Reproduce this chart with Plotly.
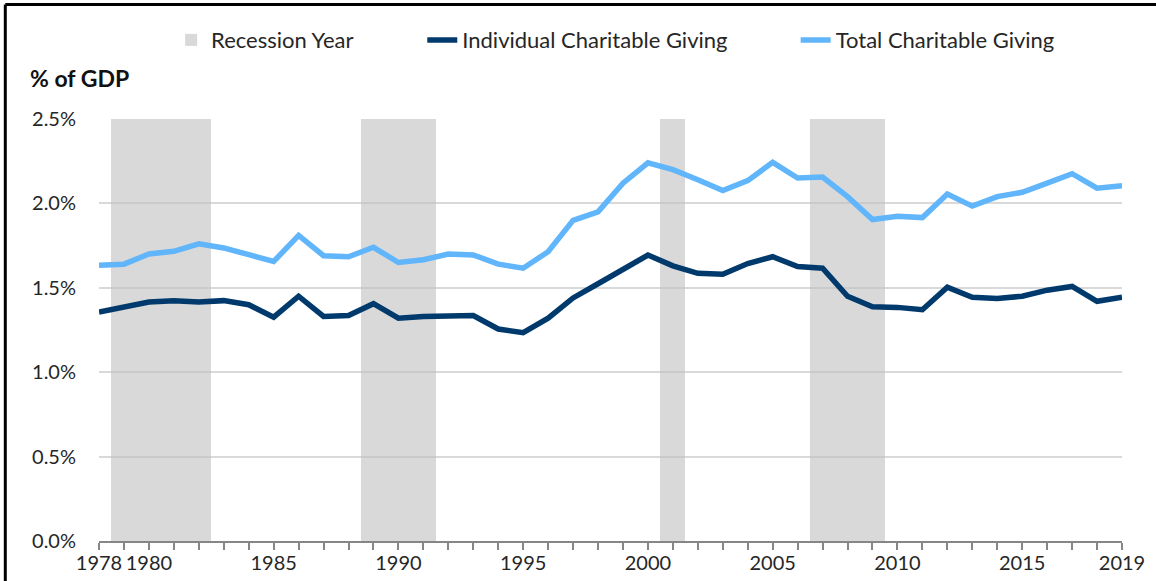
import plotly.graph_objects as go

years = list(range(1978, 2020))
individual = [1.356, 1.386, 1.416, 1.424, 1.416, 1.424, 1.400, 1.326, 1.450, 1.330,
              1.336, 1.406, 1.320, 1.330, 1.336, 1.336, 1.256, 1.234, 1.320, 1.440,
              1.524, 1.610, 1.694, 1.630, 1.586, 1.580, 1.644, 1.684, 1.626, 1.616,
              1.450, 1.388, 1.384, 1.370, 1.504, 1.444, 1.436, 1.450, 1.486, 1.508,
              1.420, 1.444]
total = [1.634, 1.640, 1.700, 1.716, 1.760, 1.736, 1.696, 1.656, 1.810, 1.690,
         1.684, 1.740, 1.650, 1.666, 1.700, 1.695, 1.640, 1.616, 1.714, 1.900,
         1.950, 2.120, 2.240, 2.200, 2.140, 2.076, 2.135, 2.243, 2.150, 2.156,
         2.040, 1.904, 1.924, 1.916, 2.056, 1.984, 2.040, 2.066, 2.120, 2.176,
         2.090, 2.104]
recession_years = [1979, 1980, 1981, 1982, 1989, 1990, 1991, 2001, 2007, 2008, 2009]
y_max = 2.5
label_years = [1978, 1980, 1985, 1990, 1995, 2000, 2005, 2010, 2015, 2019]
tick_text = [str(y) if y in label_years else "" for y in years]

FONT = "Lato"
TXT = "#262626"

fig = go.Figure()
fig.add_trace(go.Bar(
    x=recession_years, y=[y_max] * len(recession_years), width=1,
    marker=dict(color="rgba(191,191,191,0.6)", line=dict(width=0)),
    name="Recession Year", legend="legend", showlegend=True, hoverinfo="skip"))
fig.add_trace(go.Scatter(
    x=years, y=individual, mode="lines", name="Individual Charitable Giving",
    line=dict(color="#003a6c", width=5.5), legend="legend2"))
fig.add_trace(go.Scatter(
    x=years, y=total, mode="lines", name="Total Charitable Giving",
    line=dict(color="#61b5fb", width=5.5), legend="legend3"))

leg_common = dict(orientation="h", yanchor="middle", y=1.187, xanchor="left",
                  font=dict(family=FONT, size=22, color=TXT),
                  bgcolor="rgba(0,0,0,0)")

fig.update_layout(
    width=1156, height=581,
    margin=dict(l=99, r=34, t=119, b=40, autoexpand=False),
    paper_bgcolor="white", plot_bgcolor="white",
    font=dict(family=FONT, size=20, color=TXT),
    bargap=0,
    showlegend=True,
    legend=dict(x=0.0705, **leg_common),
    legend2=dict(x=0.316, **leg_common),
    legend3=dict(x=0.681, **leg_common),
    xaxis=dict(range=[1978, 2019], tickvals=years, ticktext=tick_text,
               ticks="outside", ticklen=7, tickwidth=1.5, tickcolor="#868686",
               showline=True, linecolor="#868686", linewidth=1.5,
               showgrid=False, zeroline=False, automargin=False,
               ticklabelstandoff=-4,
               tickfont=dict(family=FONT, size=20, color=TXT)),
    yaxis=dict(range=[0, y_max], dtick=0.5, tickformat=".1f", ticksuffix="%",
               showgrid=True, gridcolor="#d9d9d9", gridwidth=1.5,
               zeroline=False, showline=False, ticks="", automargin=False,
               ticklabelstandoff=22,
               tickfont=dict(family=FONT, size=20, color=TXT)),
    annotations=[dict(text="<b>% of GDP</b>", xref="paper", yref="paper",
                      x=-0.0694, y=1.097, xanchor="left", yanchor="middle",
                      showarrow=False, font=dict(family=FONT, size=23, color="#111111"))],
    shapes=[
        dict(type="line", xref="paper", yref="paper", x0=-0.0916, x1=-0.0916,
             y0=-0.2, y1=1.2713, line=dict(color="black", width=3)),
        dict(type="line", xref="paper", yref="paper", x0=-0.0916, x1=1.04,
             y0=1.2713, y1=1.2713, line=dict(color="black", width=3)),
    ],
)

fig.write_html("out.html", config={"displayModeBar": False},
               post_script="document.body.style.margin='0';")
